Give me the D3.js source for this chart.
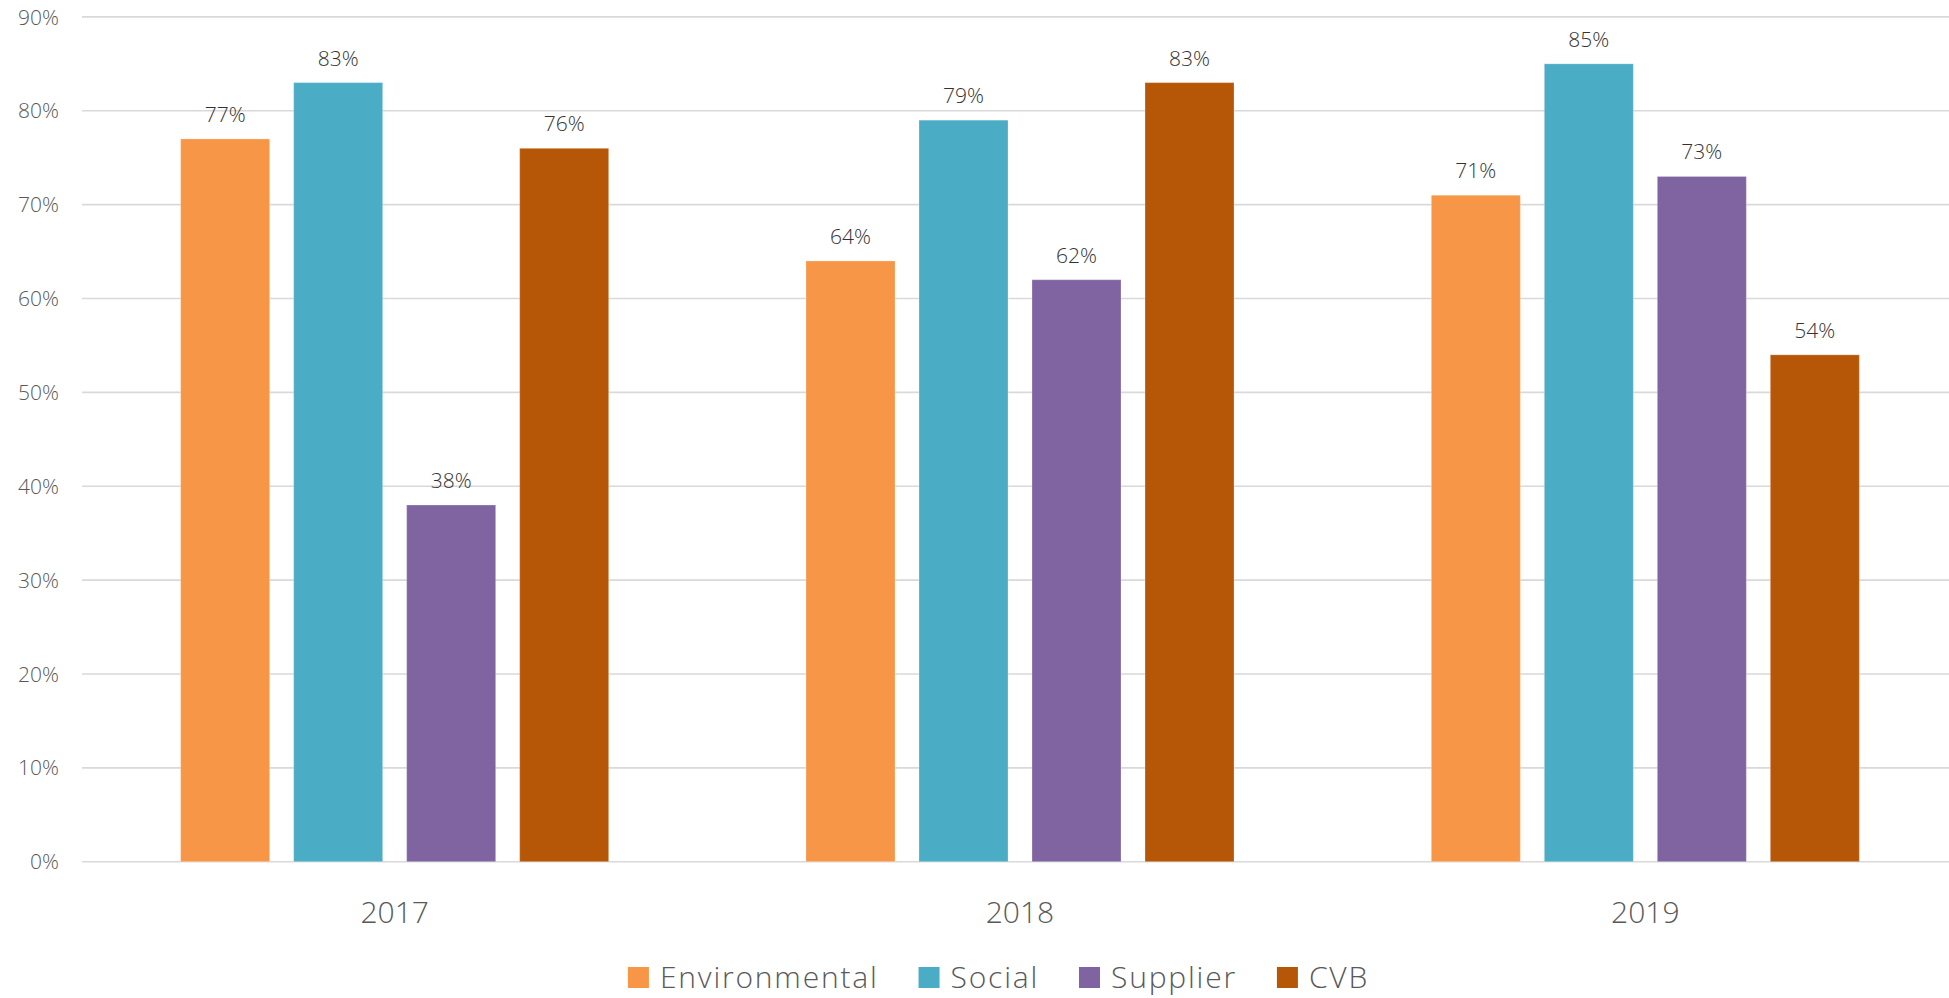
<!DOCTYPE html>
<html>
<head>
<meta charset="utf-8">
<script src="https://cdn.jsdelivr.net/npm/d3@7"></script>
<style>
  html, body { margin: 0; padding: 0; background: #ffffff; }
  svg { display: block; }
  text { font-family: "Open Sans", "Noto Sans", sans-serif; }
</style>
</head>
<body>
<svg id="chart" width="1949" height="998"></svg>
<script>
const years = ["2017", "2018", "2019"];
const seriesNames = ["Environmental", "Social", "Supplier", "CVB"];
const environmental = [77, 64, 71];
const social = [83, 79, 85];
const supplier = [38, 62, 73];
const cvb = [76, 83, 54];
const yTicks = [0, 10, 20, 30, 40, 50, 60, 70, 80, 90];
const colors = ["#F79646", "#4BACC6", "#8064A2", "#B65708"];

const seriesValues = [environmental, social, supplier, cvb];

(function () {
const svg = d3.select("#chart");
const plotLeft = 82, plotRight = 1958, plotTop = 16.9, plotBottom = 861.7;

const x0 = d3.scaleBand().domain(years).range([plotLeft, plotRight]).paddingInner(0).paddingOuter(0);
const x1 = d3.scaleBand().domain(seriesNames).range([0, x0.bandwidth()])
  .paddingInner(0.2124).paddingOuter(0.873);
const y = d3.scaleLinear().domain([0, 90]).range([plotBottom, plotTop]);

// gridlines
svg.append("g").selectAll("line").data(yTicks).join("line")
  .attr("x1", plotLeft).attr("x2", 1949)
  .attr("y1", d => y(d)).attr("y2", d => y(d))
  .attr("stroke", "#d9d9d9").attr("stroke-width", 1.6);

// y axis labels
const yAxis = d3.axisLeft(y).tickValues(yTicks).tickFormat(d => d + "%").tickSize(0).tickPadding(0);
const yg = svg.append("g").attr("transform", `translate(59,0)`).call(yAxis);
yg.select(".domain").remove();
yg.selectAll("text").attr("font-size", 21).attr("fill", "#595959").attr("font-weight", 300)
  .attr("font-family", "Open Sans, Noto Sans, sans-serif").attr("dy", "0.34em");

// bars
const rows = [];
years.forEach((yr, i) => {
  seriesNames.forEach((s, j) => {
    rows.push({ year: yr, series: s, value: seriesValues[j][i], color: colors[j] });
  });
});

const bars = svg.append("g");
bars.selectAll("rect").data(rows).join("rect")
  .attr("x", d => x0(d.year) + x1(d.series))
  .attr("y", d => y(d.value))
  .attr("width", x1.bandwidth())
  .attr("height", d => y(0) - y(d.value))
  .attr("fill", d => d.color)
  .attr("stroke", "rgba(255,255,255,0.25)")
  .attr("stroke-width", 1);

bars.selectAll("text").data(rows).join("text")
  .attr("x", d => x0(d.year) + x1(d.series) + x1.bandwidth() / 2)
  .attr("y", d => y(d.value) - 17)
  .attr("text-anchor", "middle")
  .attr("font-size", 21)
  .attr("font-weight", 300)
  .attr("fill", "#333333")
  .text(d => d.value + "%");

// x axis labels
const xAxis = d3.axisBottom(x0).tickSize(0).tickPadding(0);
const xg = svg.append("g").attr("transform", `translate(0,${plotBottom})`).call(xAxis);
xg.select(".domain").remove();
xg.selectAll("text").attr("font-size", 30).attr("fill", "#595959").attr("font-weight", 300)
  .attr("font-family", "Open Sans, Noto Sans, sans-serif")
  .attr("dy", null).attr("y", 61);

// legend
const legend = svg.append("g");
const items = legend.selectAll("g").data(seriesNames).join("g");
items.append("rect").attr("width", 21).attr("height", 21).attr("y", -21)
  .attr("fill", (d, i) => colors[i]);
items.append("text").attr("x", 32).attr("y", 0)
  .attr("font-size", 30).attr("fill", "#595959").attr("font-weight", 300).attr("letter-spacing", 1.8)
  .text(d => d);
const widths = [];
items.each(function () {
  const w = 32 + d3.select(this).select("text").node().getComputedTextLength();
  widths.push(w);
});
const gap = 40;
const total = d3.sum(widths) + gap * (widths.length - 1);
const startX = 998.5 - total / 2;
items.attr("transform", (d, i) => {
  const tx = startX + d3.sum(widths.slice(0, i)) + gap * i;
  return `translate(${tx},988)`;
});
})();
</script>
</body>
</html>
